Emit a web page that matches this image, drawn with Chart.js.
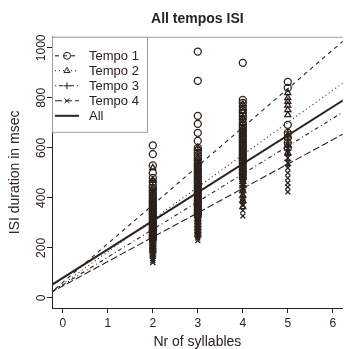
<!DOCTYPE html>
<html>
<head>
<meta charset="utf-8">
<script src="https://cdn.jsdelivr.net/npm/chart.js@4.4.1/dist/chart.umd.min.js"></script>
<style>
  html, body { margin: 0; padding: 0; background: #fff; }
  #wrap { width: 348px; height: 349px; position: relative; }
</style>
</head>
<body>
<div id="wrap"><canvas id="chart-1"></canvas></div>
<script>
// x categories (number of syllables) and ISI values in msec, one list per column
const syllableCounts = [2, 3, 4, 5];
const xTicks = [0, 1, 2, 3, 4, 5, 6];
const yTicks = [0, 200, 400, 600, 800, 1000];

const tempo1 = [
    [610, 575, 530, 500, 480, 465, 450, 440, 430, 420, 410, 400, 392, 385, 378, 370, 362, 355, 348, 340, 333, 325, 318, 310, 302, 295, 288, 280, 272, 265, 258, 250, 242, 235],
    [985, 868, 728, 696, 660, 628, 600, 590, 580, 570, 560, 550, 540, 530, 520, 510, 500, 490, 480, 470, 460, 450, 440, 430, 420, 410, 400, 390, 380, 370, 360, 350, 340, 330],
    [940, 792, 780, 765, 750, 740, 728, 715, 700, 690, 680, 670, 660, 650, 640, 630, 620, 610, 600, 590, 580, 570, 560, 550, 540, 525, 510, 495, 480],
    [864, 840, 692, 660, 640, 620, 600]
];
const tempo2 = [
    [520, 470, 440, 420, 405, 390, 378, 366, 355, 345, 335, 325, 315, 305, 296, 287, 278, 270, 262, 254, 246, 238, 230, 222, 214, 206, 198, 190],
    [600, 560, 540, 520, 505, 490, 475, 460, 448, 436, 424, 412, 400, 388, 376, 364, 352, 340, 328, 316, 304, 292, 280, 268, 255],
    [775, 760, 745, 720, 700, 680, 660, 640, 620, 600, 585, 570, 555, 540, 525, 510, 495, 480, 465, 450, 430, 410, 390, 364],
    [820, 800, 785, 770, 752, 732, 650, 610, 580]
];
const tempo3 = [
    [470, 430, 400, 385, 370, 356, 343, 330, 318, 306, 295, 285, 275, 265, 255, 245, 236, 227, 218, 209, 200, 192, 184, 176, 168, 160],
    [590, 550, 525, 505, 488, 472, 458, 444, 430, 417, 404, 391, 378, 365, 352, 340, 328, 316, 304, 292, 280, 268, 256, 244],
    [720, 690, 665, 645, 625, 605, 588, 572, 556, 540, 525, 510, 495, 480, 465, 450, 435, 420, 400, 380],
    [664, 650, 635, 620, 605, 590, 570, 550, 530]
];
const tempo4 = [
    [420, 380, 355, 335, 318, 302, 290, 278, 267, 256, 246, 236, 227, 218, 209, 200, 191, 182, 174, 166, 158, 150, 142],
    [540, 500, 470, 450, 432, 415, 400, 386, 372, 358, 345, 332, 320, 308, 296, 284, 272, 260, 250, 240, 230],
    [660, 620, 590, 565, 545, 525, 505, 488, 470, 452, 435, 418, 400, 385, 370, 350, 328],
    [600, 580, 560, 540, 520, 500, 480, 460, 444, 424]
];

// regression lines, value at each end of fitX
const fitX = [-0.3, 6.3];
const fitTempo1 = [16, 1038];
const fitTempo2 = [17, 869];
const fitTempo3 = [19, 751];
const fitTempo4 = [19, 662];
const fitAll = [46, 798];

const seriesNames = ['Tempo 1', 'Tempo 2', 'Tempo 3', 'Tempo 4', 'All'];

const ink = '#2b211d';
const family = '"Liberation Sans", Arial, sans-serif';

function toPoints(columns) {
    return syllableCounts.flatMap((n, i) => columns[i].map(v => ({ x: n, y: v })));
}
function toLine(ends) {
    return fitX.map((x, i) => ({ x: x, y: ends[i] }));
}

const styles = [
    { pointStyle: 'circle', dash: [4, 4], width: 1.1 },
    { pointStyle: 'triangle', dash: [1, 3], width: 1.1 },
    { pointStyle: 'cross', dash: [1, 3, 4, 3], width: 1.1 },
    { pointStyle: 'crossRot', dash: [7, 3], width: 1.1 },
    { pointStyle: false, dash: [], width: 2 }
];

const pointSets = [tempo1, tempo2, tempo3, tempo4].map((cols, i) => ({
    label: seriesNames[i],
    data: toPoints(cols),
    pointStyle: styles[i].pointStyle,
    pointRadius: 3.5,
    pointBorderWidth: 1.3,
    borderColor: ink,
    backgroundColor: 'rgba(0,0,0,0)',
    order: 2
}));

const lineSets = [fitTempo1, fitTempo2, fitTempo3, fitTempo4, fitAll].map((ends, i) => ({
    label: seriesNames[i] + ' fit',
    data: toLine(ends),
    showLine: true,
    pointRadius: 0,
    borderColor: ink,
    borderWidth: styles[i].width,
    borderDash: styles[i].dash,
    order: 1
}));

// gray top edge of the plot box
const topEdge = {
    id: 'topEdge',
    beforeDatasetsDraw(chart) {
        const { ctx, chartArea: a } = chart;
        ctx.save();
        ctx.strokeStyle = '#a59d97';
        ctx.lineWidth = 1;
        ctx.beginPath();
        ctx.moveTo(a.left, a.top + 0.5);
        ctx.lineTo(a.right, a.top + 0.5);
        ctx.stroke();
        ctx.restore();
    }
};

// R style legend in the top left corner
const legendBox = {
    id: 'legendBox',
    afterDatasetsDraw(chart) {
        const { ctx, chartArea: a } = chart;
        const x0 = a.left, y0 = a.top, w = 95, h = 95;
        ctx.save();
        ctx.fillStyle = '#fff';
        ctx.fillRect(x0, y0, w, h);
        ctx.strokeStyle = '#a59d97';
        ctx.lineWidth = 1;
        ctx.strokeRect(x0 + 0.5, y0 + 0.5, w, h);
        seriesNames.forEach((name, i) => {
            const y = y0 + 19 + i * 15;
            const st = styles[i];
            ctx.strokeStyle = ink;
            ctx.lineWidth = st.width;
            ctx.setLineDash(st.dash);
            ctx.beginPath();
            ctx.moveTo(x0 + 3, y);
            ctx.lineTo(x0 + 27, y);
            ctx.stroke();
            ctx.setLineDash([]);
            if (st.pointStyle) {
                ctx.fillStyle = 'rgba(0,0,0,0)';
                ctx.lineWidth = 1;
                Chart.helpers.drawPoint(ctx, { pointStyle: st.pointStyle, radius: 3.5, borderWidth: 1, rotation: 0 }, x0 + 15, y);
            }
            ctx.fillStyle = ink;
            ctx.font = '13px ' + family;
            ctx.textBaseline = 'middle';
            ctx.textAlign = 'left';
            ctx.fillText(name, x0 + 37, y + 0.5);
        });
        ctx.restore();
    }
};

const ctx1 = document.getElementById('chart-1').getContext('2d');
const chart1 = new Chart(ctx1, {
    type: 'scatter',
    data: { datasets: [...lineSets, ...pointSets] },
    options: {
        responsive: true,
        maintainAspectRatio: false,
        animation: false,
        layout: { padding: { left: 0, right: 0, top: 0, bottom: 0 } },
        plugins: {
            legend: { display: false },
            tooltip: { enabled: false },
            title: {
                display: true,
                text: 'All tempos ISI',
                fullSize: false,
                color: ink,
                font: { family: family, size: 14, weight: 'bold', lineHeight: 1.2 },
                padding: { top: 11, bottom: 9 }
            }
        },
        scales: {
            x: {
                type: 'linear',
                min: -0.24,
                max: 6.22,
                afterBuildTicks: s => { s.ticks = xTicks.map(v => ({ value: v })); },
                afterFit: s => { s.height = 41; },
                grid: { drawOnChartArea: false, tickLength: 5, color: ink },
                border: { display: true, color: ink, width: 1 },
                ticks: { color: ink, padding: 3, maxRotation: 0, font: { family: family, size: 12 }, callback: v => String(v) },
                title: {
                    display: true,
                    text: 'Nr of syllables',
                    color: ink,
                    font: { family: family, size: 14, lineHeight: 1 },
                    padding: { top: 0, bottom: 0 }
                }
            },
            y: {
                type: 'linear',
                min: -40,
                max: 1044,
                afterBuildTicks: s => { s.ticks = yTicks.map(v => ({ value: v })); },
                afterFit: s => { s.width = 52; },
                grid: { drawOnChartArea: false, tickLength: 5, color: ink },
                border: { display: true, color: ink, width: 1 },
                ticks: { color: ink, minRotation: 90, maxRotation: 90, crossAlign: 'center', padding: -8, font: { family: family, size: 12 }, callback: v => String(v) },
                title: {
                    display: true,
                    text: 'ISI duration in msec',
                    color: ink,
                    font: { family: family, size: 14, lineHeight: 1.2 },
                    padding: { top: 7, bottom: 0 }
                }
            }
        }
    },
    plugins: [topEdge, legendBox]
});
</script>
</body>
</html>
